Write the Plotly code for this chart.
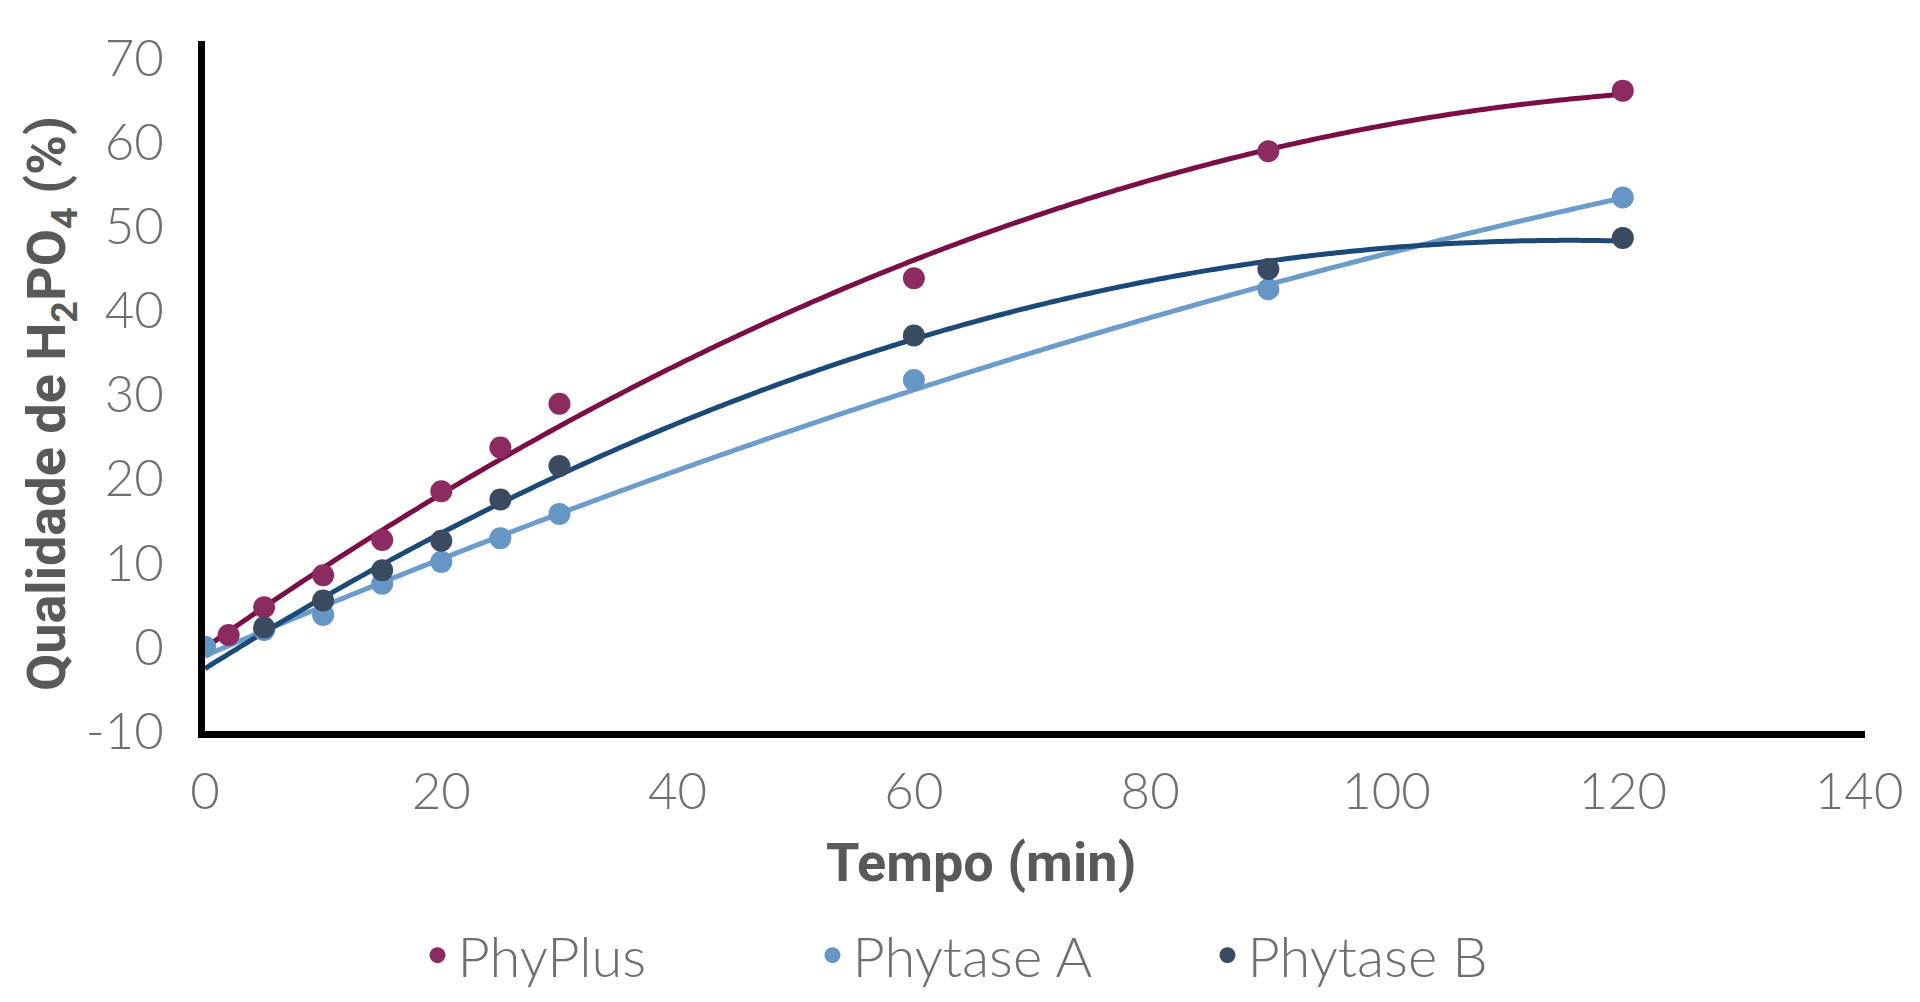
import numpy as np
import plotly.graph_objects as go

# Data
phyplus_x = [2, 5, 10, 15, 20, 25, 30, 60, 90, 120]
phyplus_y = [1.4, 4.7, 8.5, 12.7, 18.5, 23.7, 28.9, 43.8, 58.9, 66.1]

phytase_a_x = [0, 5, 10, 15, 20, 25, 30, 60, 90, 120]
phytase_a_y = [0.0, 2.0, 3.8, 7.5, 10.1, 12.9, 15.8, 31.7, 42.5, 53.4]

phytase_b_x = [5, 10, 15, 20, 25, 30, 60, 90, 120]
phytase_b_y = [2.3, 5.5, 9.1, 12.6, 17.5, 21.5, 37.0, 44.9, 48.6]

series_names = ["PhyPlus", "Phytase A", "Phytase B"]
x_ticks = [0, 20, 40, 60, 80, 100, 120, 140]
y_ticks = [-10, 0, 10, 20, 30, 40, 50, 60, 70]
y_tick_text = ["-10", "0", "10", "20", "30", "40", "50", "60", "70"]

x_title = "Tempo (min)"
y_title = "Qualidade de H<sub>2</sub>PO<sub>4</sub> (%)"

marker_colors = ["#8B2B60", "#6596C4", "#394A61"]
line_colors = ["#7B0E46", "#6B9CCB", "#1C4A78"]

series = [(phyplus_x, phyplus_y), (phytase_a_x, phytase_a_y), (phytase_b_x, phytase_b_y)]

fig = go.Figure()

# Polynomial (order 2) trendlines, as in the original spreadsheet chart
for (xs, ys), lc in zip(series, line_colors):
    coef = np.polyfit(np.array(xs, float), np.array(ys, float), 2)
    xf = np.linspace(0, max(xs), 241)
    yf = np.polyval(coef, xf)
    fig.add_trace(go.Scatter(x=xf, y=yf, mode="lines",
                             line=dict(color=lc, width=5, shape="spline"),
                             showlegend=False, hoverinfo="skip"))

for (xs, ys), name, mc in zip(series, series_names, marker_colors):
    fig.add_trace(go.Scatter(x=xs, y=ys, mode="markers", name=name,
                             marker=dict(color=mc, size=22)))

tick_font = dict(family="Lato", size=51, color="#6F6F6F", weight=300)
title_font = dict(family="Roboto", size=54, color="#595959", weight=700)

fig.update_layout(
    width=1920, height=1002,
    paper_bgcolor="white", plot_bgcolor="white",
    margin=dict(l=197, r=63, t=33, b=274),
    xaxis=dict(range=[0, 140.5], tickvals=x_ticks, showgrid=False, zeroline=False,
               showline=True, linecolor="black", linewidth=7,
               tickfont=tick_font, ticks="", ticklabelstandoff=10),
    yaxis=dict(range=[-10, 72], tickvals=y_ticks, ticktext=y_tick_text,
               showgrid=False, zeroline=False,
               showline=True, linecolor="black", linewidth=7,
               tickfont=tick_font, ticks="", ticklabelstandoff=24),
    legend=dict(orientation="h", x=0.128, xanchor="left", y=-0.325, yanchor="middle",
                font=dict(family="Lato", size=56, color="#6F6F6F", weight=300),
                entrywidth=350, entrywidthmode="pixels", itemsizing="trace"),
    showlegend=True,
    annotations=[
        dict(text=x_title, xref="paper", yref="paper", x=0.4675, y=-0.191,
             xanchor="center", yanchor="middle", showarrow=False, font=title_font),
        dict(text=y_title, xref="paper", yref="paper", x=-0.093, y=0.4748,
             xanchor="center", yanchor="middle", textangle=-90, showarrow=False,
             font=title_font),
    ],
)

fig.write_html("out.html")
